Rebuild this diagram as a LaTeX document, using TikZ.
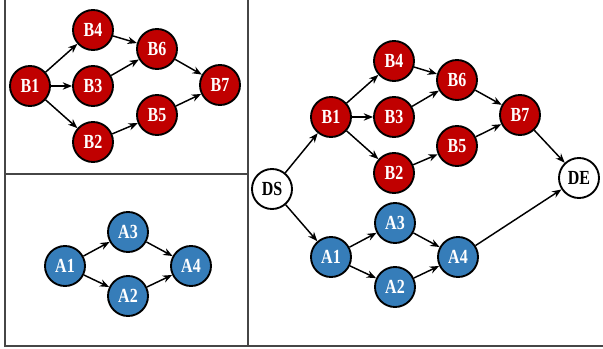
\documentclass[tikz,border=0pt]{standalone}
\usepackage{fontspec}
\usepackage{graphicx}
\setmainfont{Liberation Serif}
\usetikzlibrary{arrows.meta}
\definecolor{nodered}{RGB}{192,0,0}
\definecolor{nodeblue}{RGB}{54,125,185}
\definecolor{framegray}{RGB}{70,70,70}
% narrow, tall labels inside the circles
\newcommand{\vlabel}[1]{\scalebox{0.8}[1.0]{#1}}
\begin{document}
\begin{tikzpicture}[x=0.75pt,y=-0.75pt,
  vtx/.style={circle,draw=black,line width=1.4pt,minimum size=30pt,inner sep=0pt,
    font=\bfseries\fontsize{15}{15}\selectfont},
  bnode/.style={vtx,fill=nodered,text=white},
  anode/.style={vtx,fill=nodeblue,text=white},
  wnode/.style={vtx,fill=white,text=black},
  arr/.style={-{Stealth[length=7pt,width=5.5pt]},line width=1.1pt},
  frame/.style={draw=framegray,line width=0.8pt}]
\useasboundingbox (0,0) rectangle (603,349);
% panel frame
\draw[frame] (5,0) -- (5,346) -- (603,346);
\draw[frame] (248,0) -- (248,346);
\draw[frame] (5,174) -- (248,174);

% upper left: B network
\node[bnode] (lb1) at (30,86) {\vlabel{B1}};
\node[bnode] (lb4) at (93,30) {\vlabel{B4}};
\node[bnode] (lb3) at (93,86) {\vlabel{B3}};
\node[bnode] (lb2) at (93,142) {\vlabel{B2}};
\node[bnode] (lb6) at (157,49) {\vlabel{B6}};
\node[bnode] (lb5) at (157,115) {\vlabel{B5}};
\node[bnode] (lb7) at (220,85) {\vlabel{B7}};
\foreach \a/\b in {lb1/lb4,lb1/lb3,lb1/lb2,lb4/lb6,lb3/lb6,lb2/lb5,lb6/lb7,lb5/lb7}
  \draw[arr] (\a) -- (\b);

% lower left: A network
\node[anode] (la1) at (65,266) {\vlabel{A1}};
\node[anode] (la3) at (128,232) {\vlabel{A3}};
\node[anode] (la2) at (128,296) {\vlabel{A2}};
\node[anode] (la4) at (191,266) {\vlabel{A4}};
\foreach \a/\b in {la1/la3,la1/la2,la3/la4,la2/la4}
  \draw[arr] (\a) -- (\b);

% right: combined network
\node[wnode] (ds) at (272,189) {\vlabel{DS}};
\node[wnode] (de) at (579,178) {\vlabel{DE}};
\node[bnode] (b1) at (331,117) {\vlabel{B1}};
\node[bnode] (b4) at (394,61) {\vlabel{B4}};
\node[bnode] (b3) at (394,117) {\vlabel{B3}};
\node[bnode] (b2) at (394,173) {\vlabel{B2}};
\node[bnode] (b6) at (457,80) {\vlabel{B6}};
\node[bnode] (b5) at (457,146) {\vlabel{B5}};
\node[bnode] (b7) at (520,115) {\vlabel{B7}};
\node[anode] (a1) at (331,257) {\vlabel{A1}};
\node[anode] (a3) at (395,223) {\vlabel{A3}};
\node[anode] (a2) at (395,287) {\vlabel{A2}};
\node[anode] (a4) at (458,257) {\vlabel{A4}};
\foreach \a/\b in {ds/b1,ds/a1,b1/b4,b1/b3,b1/b2,b4/b6,b3/b6,b2/b5,b6/b7,b5/b7,b7/de,
                   a1/a3,a1/a2,a3/a4,a2/a4,a4/de}
  \draw[arr] (\a) -- (\b);
\end{tikzpicture}
\end{document}
